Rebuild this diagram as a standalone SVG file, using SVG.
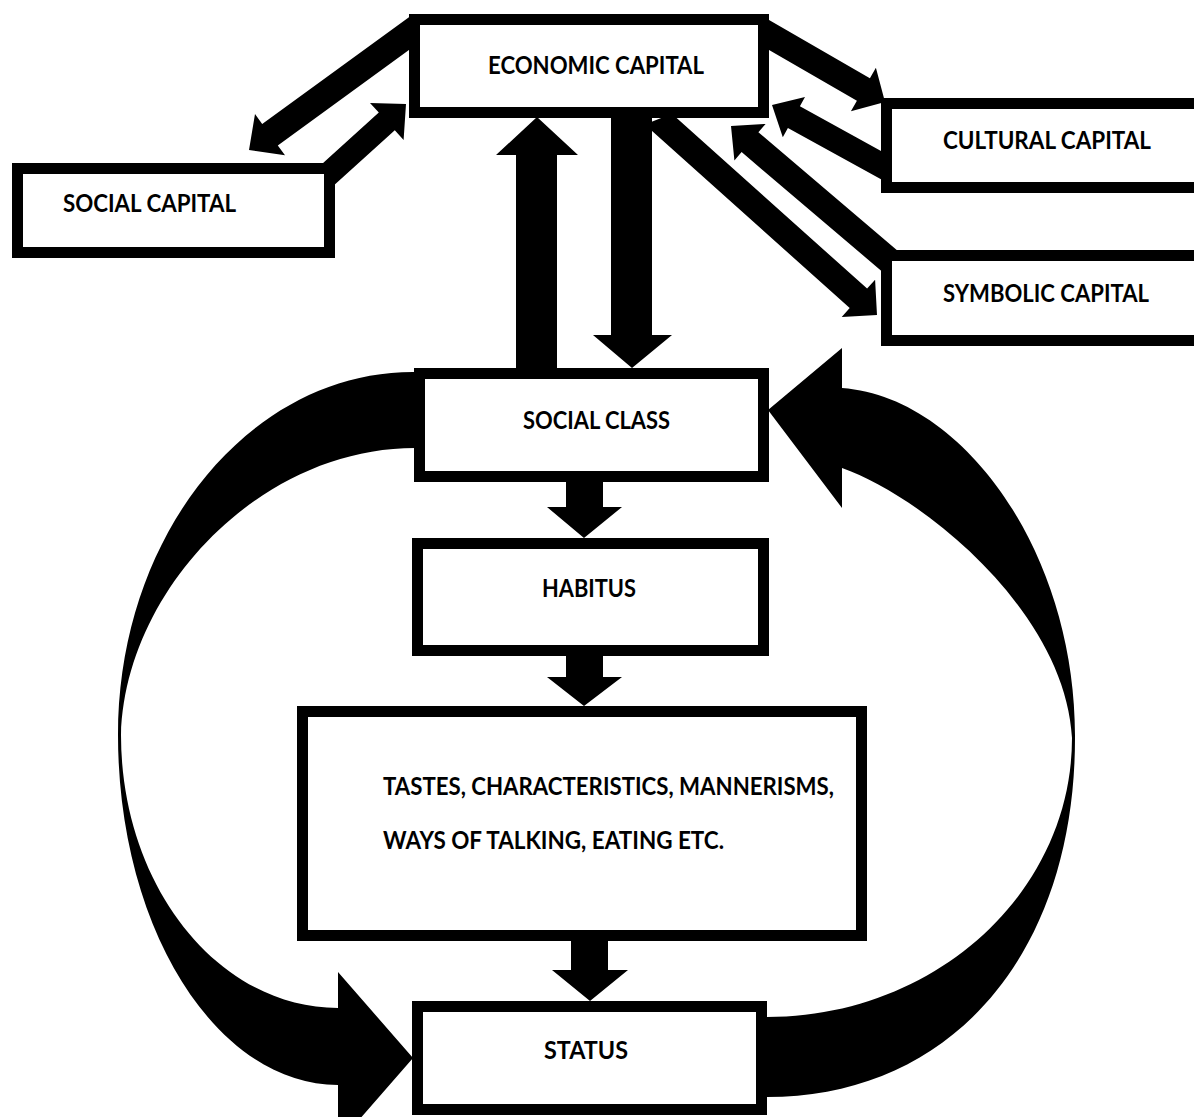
<svg xmlns="http://www.w3.org/2000/svg" width="1194" height="1117" viewBox="0 0 1194 1117">
<style>
.box{fill:#fff;stroke:#000;stroke-width:11}
.arr{fill:#000;stroke:none}
.lbl{font-family:Lato,"Liberation Sans",sans-serif;font-weight:700;font-size:24px;fill:#000}
</style>
<rect width="1194" height="1117" fill="#fff"/>
<g id="connectors">
  <!-- Social class <-> Economic capital -->
  <polygon class="arr" points="516,376 516,155 496,155 537,117 578,155 557,155 557,376"/>
  <polygon class="arr" points="611,112 652,112 652,335 672,335 632,368 593,335 611,335"/>
  <!-- Economic <-> Social capital -->
  <polygon class="arr" points="412,15 262.2,124 255,114.1 249,150 285,155.3 277.8,145.4 412,47.7"/>
  <polygon class="arr" points="315.9,169.5 378.8,112.5 370,102.9 406,104 403.6,139.9 394.8,130.3 328.2,190.6"/>
  <!-- Economic <-> Cultural capital -->
  <polygon class="arr" points="763,16.5 869.9,78.2 875.9,67.8 885,102 850.9,111.2 856.9,100.8 763,46.6"/>
  <polygon class="arr" points="886,153.7 799.9,106.2 805,97 772,105 782.8,137.2 787.9,128 886,182.1"/>
  <!-- Economic <-> Symbolic capital -->
  <polygon class="arr" points="903.2,255.4 758.4,132.3 765.6,123.9 731,126 734.4,160.5 741.6,152.1 886.4,275.2"/>
  <polygon class="arr" points="671.9,113.8 867.1,288.6 875.1,279.7 877,315 841.7,316.9 849.7,308 644.8,124.6"/>
  <!-- Vertical chain -->
  <polygon class="arr" points="566,476 603,476 603,507 622,507 584,538 547,507 566,507"/>
  <polygon class="arr" points="566,650 603,650 603,677 622,677 584,706 547,677 566,677"/>
  <polygon class="arr" points="571,936 608,936 608,970 628,970 590,1001 552,970 571,970"/>
  <!-- Curved arrow: Social class -> Status -->
  <path class="arr" d="M420,372 L413,372 C250,372 118,534 118,735 C118,928 216.5,1085 338,1085 L338,1144 L413,1058 L338,972 L338,1008 C218.2,1008 121,885.8 121,735 C125,590 260,448 415,448 L420,448 Z"/>
  <!-- Curved arrow: Status -> Social class -->
  <path class="arr" d="M760,1017 L767,1017 C935.4,1017 1072,892.1 1072,738 C1065,610 920,495 842,468 L842,508 L768,410 L842,348 L842,388 C965,397 1076,555 1075,738 C1075,953.4 951.8,1097 767,1097 L760,1097 Z"/>
</g>
<g id="economic-capital">
  <rect class="box" x="414.5" y="19.5" width="349" height="93"/>
  <text class="lbl" x="488" y="74" textLength="216" lengthAdjust="spacingAndGlyphs">ECONOMIC CAPITAL</text>
</g>
<g id="social-capital">
  <rect class="box" x="17.5" y="168.5" width="312" height="84"/>
  <text class="lbl" x="63" y="212" textLength="173" lengthAdjust="spacingAndGlyphs">SOCIAL CAPITAL</text>
</g>
<g id="cultural-capital">
  <rect class="box" x="886.5" y="103.5" width="330" height="84"/>
  <text class="lbl" x="943" y="149" textLength="208" lengthAdjust="spacingAndGlyphs">CULTURAL CAPITAL</text>
</g>
<g id="symbolic-capital">
  <rect class="box" x="886.5" y="255.5" width="330" height="85"/>
  <text class="lbl" x="943" y="302" textLength="206" lengthAdjust="spacingAndGlyphs">SYMBOLIC CAPITAL</text>
</g>
<g id="social-class">
  <rect class="box" x="419.5" y="373.5" width="344" height="103"/>
  <text class="lbl" x="523" y="429" textLength="147" lengthAdjust="spacingAndGlyphs">SOCIAL CLASS</text>
</g>
<g id="habitus">
  <rect class="box" x="417.5" y="543.5" width="346" height="107"/>
  <text class="lbl" x="542" y="597" textLength="94" lengthAdjust="spacingAndGlyphs">HABITUS</text>
</g>
<g id="tastes">
  <rect class="box" x="302.5" y="711.5" width="559" height="224"/>
  <text class="lbl" x="383" y="795" textLength="451" lengthAdjust="spacingAndGlyphs">TASTES, CHARACTERISTICS, MANNERISMS,</text>
  <text class="lbl" x="383" y="849" textLength="341" lengthAdjust="spacingAndGlyphs">WAYS OF TALKING, EATING ETC.</text>
</g>
<g id="status">
  <rect class="box" x="417.5" y="1006.5" width="344" height="103"/>
  <text class="lbl" x="544" y="1059" textLength="84" lengthAdjust="spacingAndGlyphs">STATUS</text>
</g>
</svg>
